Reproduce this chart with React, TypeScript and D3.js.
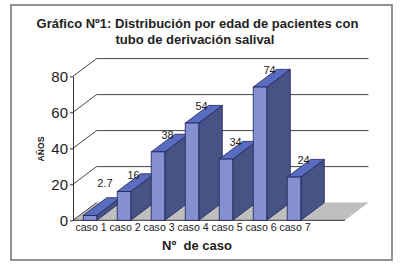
import React, { useRef, useEffect } from 'react';
import * as d3 from 'd3';

const categories = ['caso 1', 'caso 2', 'caso 3', 'caso 4', 'caso 5', 'caso 6', 'caso 7', ''];
const ages = [2.7, 16, 38, 54, 34, 74, 24];
const yTicks = [0, 20, 40, 60, 80];

const titleLines = ['Gráfico Nº1: Distribución por edad de pacientes con', 'tubo de derivación salival'];

const FONT = '"Liberation Sans", Arial, sans-serif';
const depthX = 23.5;
const depthY = -17.7;

const App = () => {
    const ref = useRef<SVGSVGElement | null>(null);

    useEffect(() => {
        if (!ref.current) return;
        const svg = d3.select(ref.current);
        svg.selectAll('*').remove();

        const x = d3.scaleBand<string>().domain(categories.map((c, i) => c || `_${i}`)).range([73, 345]).paddingInner(0.6).paddingOuter(0.3);
        const band = d3.scaleBand<string>().domain(x.domain()).range([73, 345]);
        const y = d3.scaleLinear().domain([0, 80]).range([220.3, 76.3]);

        // frame
        svg.append('rect')
            .attr('x', 11).attr('y', 5).attr('width', 381).attr('height', 255)
            .attr('fill', '#fff').attr('stroke', '#777').attr('stroke-width', 1.6);

        // title
        titleLines.forEach((t, i) => {
            svg.append('text')
                .attr('x', i === 0 ? 197.5 : 195)
                .attr('y', i === 0 ? 28 : 44)
                .attr('text-anchor', 'middle')
                .attr('font-family', FONT)
                .attr('font-weight', 'bold')
                .attr('font-size', 13)
                .attr('fill', '#222')
                .text(t);
        });

        // floor
        const [x0, x1] = band.range();
        const y0 = y(0);
        const floor = d3.line()([[x0, y0], [x0 + depthX, y0 + depthY], [x1 + depthX, y0 + depthY], [x1, y0]]);
        svg.append('path').attr('d', floor + 'Z').attr('fill', '#bfbfbf').attr('stroke', 'none');

        // grid lines on the walls
        yTicks.forEach(v => {
            const pts: [number, number][] = v === 0
                ? [[x0, y(v)], [x0 + depthX, y(v) + depthY]]
                : [[x0, y(v)], [x0 + depthX, y(v) + depthY], [x1 + depthX, y(v) + depthY]];
            svg.append('path')
                .attr('d', d3.line()(pts))
                .attr('fill', 'none')
                .attr('stroke', '#444')
                .attr('stroke-width', 1);
        });
        svg.append('path')
            .attr('d', d3.line()([[x0, y0], [x1, y0]]))
            .attr('stroke', '#333').attr('stroke-width', 1);

        // bars
        const stroke = '#1c2258';
        ages.forEach((v, i) => {
            const key = x.domain()[i];
            const l = x(key) as number;
            const r = l + x.bandwidth();
            const t = y(v);
            svg.append('path')
                .attr('d', d3.line()([[r, y0], [r + depthX, y0 + depthY], [r + depthX, t + depthY], [r, t]]) + 'Z')
                .attr('fill', '#475385').attr('stroke', stroke).attr('stroke-width', 0.8);
            svg.append('path')
                .attr('d', d3.line()([[l, t], [l + depthX, t + depthY], [r + depthX, t + depthY], [r, t]]) + 'Z')
                .attr('fill', '#5a6cc0').attr('stroke', stroke).attr('stroke-width', 0.8);
            svg.append('rect')
                .attr('x', l).attr('y', t).attr('width', x.bandwidth()).attr('height', y0 - t)
                .attr('fill', '#8490d0').attr('stroke', stroke).attr('stroke-width', 0.8);
            // the first label sits higher and further right than the others
            const first = i === 0;
            svg.append('text')
                .attr('x', (l + r) / 2 + (first ? 15 : 9.5))
                .attr('y', t - (first ? 28 : 13))
                .attr('text-anchor', 'middle')
                .attr('font-family', FONT)
                .attr('font-size', 11)
                .attr('fill', '#222')
                .text(String(v));
        });

        // y axis
        const yAxis = svg.append('g')
            .attr('transform', `translate(${x0},0)`)
            .call(d3.axisLeft(y).tickValues(yTicks).tickSize(3).tickSizeOuter(0).tickPadding(2));
        yAxis.selectAll('text')
            .attr('font-family', FONT).attr('font-size', 15).attr('fill', '#222');
        yAxis.selectAll('line, path').attr('stroke', '#333');

        // category labels
        categories.forEach((c, i) => {
            svg.append('text')
                .attr('x', (band(band.domain()[i]) as number) + band.bandwidth() / 2 + 1)
                .attr('y', 231)
                .attr('text-anchor', 'middle')
                .attr('font-family', FONT)
                .attr('font-size', 10.6)
                .attr('fill', '#222')
                .text(c);
        });

        svg.append('text')
            .attr('x', 197).attr('y', 250)
            .attr('text-anchor', 'middle')
            .attr('font-family', FONT).attr('font-weight', 'bold').attr('font-size', 13)
            .attr('fill', '#222')
            .attr('xml:space', 'preserve')
            .style('white-space', 'pre')
            .text('Nº  de caso');

        svg.append('text')
            .attr('transform', 'translate(44,149) rotate(-90)')
            .attr('text-anchor', 'middle')
            .attr('font-family', FONT).attr('font-weight', 'bold').attr('font-size', 8.6)
            .attr('fill', '#222')
            .text('AÑOS');
    }, []);

    return (
        <svg ref={ref} width={400} height={264} style={{ position: 'absolute', left: 0, top: 0, display: 'block' }} />
    );
};

export default App;
